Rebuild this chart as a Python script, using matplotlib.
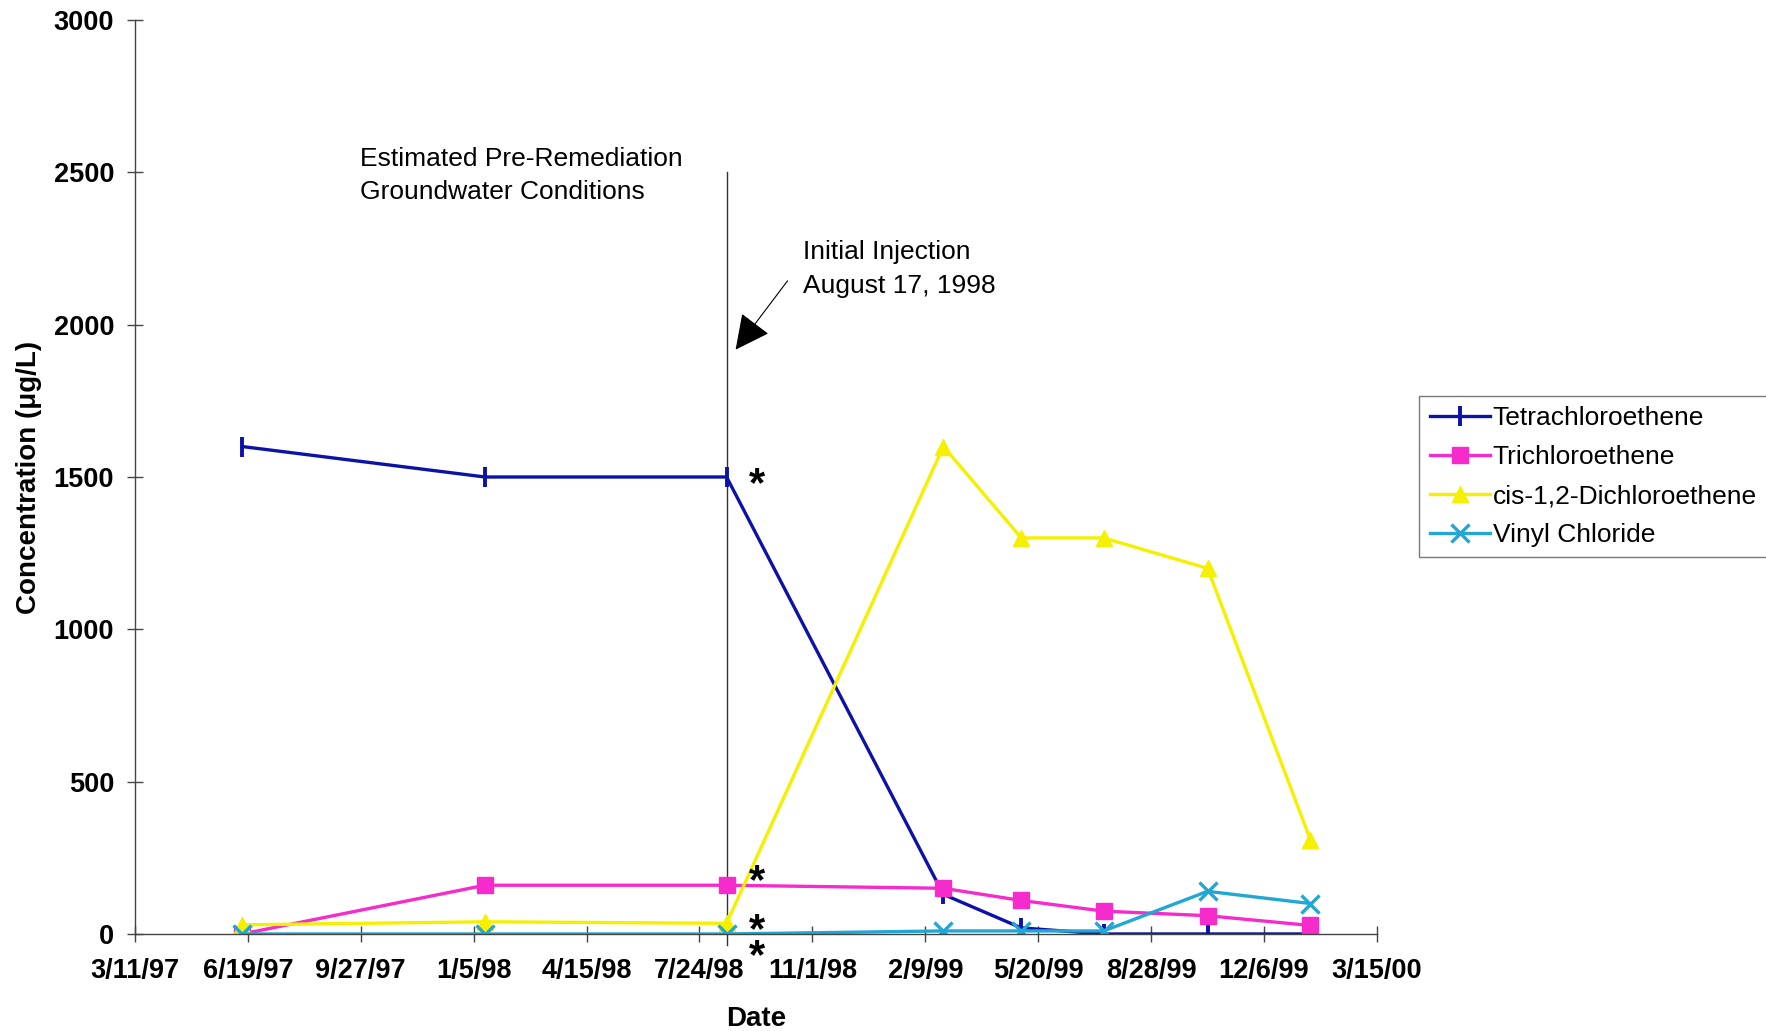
import matplotlib
matplotlib.use("Agg")
import matplotlib.pyplot as plt
from datetime import datetime


def d(s):
    return datetime.strptime(s, "%m/%d/%y")


# sampling dates and concentrations (ug/L)
sample_dates = ["6/14/97", "1/15/98", "8/17/98", "2/25/99", "5/5/99", "7/17/99", "10/17/99", "1/16/00"]
pce = [1600, 1500, 1500, 130, 20, 0, 0, 0]
tce = [0, 160, 160, 150, 110, 75, 60, 28]
dce = [30, 40, 35, 1600, 1300, 1300, 1200, 310]
vc = [0, 0, 0, 10, 10, 10, 140, 100]

series_names = ["Tetrachloroethene", "Trichloroethene", "cis-1,2-Dichloroethene", "Vinyl Chloride"]

x_tick_labels = ["3/11/97", "6/19/97", "9/27/97", "1/5/98", "4/15/98", "7/24/98",
                 "11/1/98", "2/9/99", "5/20/99", "8/28/99", "12/6/99", "3/15/00"]
y_ticks = [0, 500, 1000, 1500, 2000, 2500, 3000]

injection_date = "8/17/98"
star_date = "9/13/98"
star_levels = [1472, 172, 9, -76]

font = "Liberation Sans"

fig = plt.figure(figsize=(17.66, 10.31), dpi=100)
ax = fig.add_axes([0.0764, 0.0941, 0.7033, 0.8865])

x = [d(s) for s in sample_dates]

ax.plot(x, pce, color="#0c12a8", lw=2.4, marker="|", ms=14, mew=2.8, label=series_names[0])
ax.plot(x, tce, color="#f52ccb", lw=2.4, marker="s", ms=11, label=series_names[1])
ax.plot(x, dce, color="#f4f000", lw=2.4, marker="^", ms=12, label=series_names[2])
ax.plot(x, vc, color="#22a6d4", lw=2.4, marker="x", ms=13, mew=2.4, label=series_names[3])

ax.set_xlim(d(x_tick_labels[0]), d(x_tick_labels[-1]))
ax.set_ylim(0, 3000)
ax.set_xticks([d(s) for s in x_tick_labels])
ax.set_xticklabels(x_tick_labels, fontfamily=font, fontweight="bold", fontsize=19.5)
ax.set_yticks(y_ticks)
ax.set_yticklabels([str(v) for v in y_ticks], fontfamily=font, fontweight="bold", fontsize=19.5)

for side in ["top", "right"]:
    ax.spines[side].set_visible(False)
for side in ["left", "bottom"]:
    ax.spines[side].set_color("#444444")
    ax.spines[side].set_linewidth(1.0)
ax.tick_params(axis="both", direction="inout", length=12, width=1.0, color="#444444")
ax.tick_params(axis="y", pad=9)
ax.tick_params(axis="x", pad=11)

ax.set_xlabel("Date", fontfamily=font, fontweight="bold", fontsize=20, labelpad=16)
ax.set_ylabel("Concentration (\u03bcg/L)", fontfamily=font, fontweight="bold", fontsize=20, labelpad=8)

# injection line
inj = d(injection_date)
ax.plot([inj, inj], [-35, 2500], color="#333333", lw=1.0, clip_on=False, zorder=1)

ax.text(d("9/26/97"), 2490, "Estimated Pre-Remediation\nGroundwater Conditions",
        fontfamily=font, fontsize=19, va="center", ha="left", linespacing=1.5)
ax.text(d("10/24/98"), 2183, "Initial Injection\nAugust 17, 1998",
        fontfamily=font, fontsize=19, va="center", ha="left", linespacing=1.5)
ax.annotate("", xy=(d("8/25/98"), 1918), xytext=(d("10/10/98"), 2144),
            arrowprops=dict(arrowstyle="-|>", color="black", lw=0.8, mutation_scale=55,
                            shrinkA=0, shrinkB=0))

for lvl in star_levels:
    ax.text(d(star_date), lvl, "*", fontfamily=font, fontweight="bold", fontsize=30,
            ha="center", va="center", clip_on=False)

leg = ax.legend(loc="upper left", bbox_to_anchor=(0.8035, 0.616), bbox_transform=fig.transFigure,
                prop={"family": font, "size": 19}, frameon=True, fancybox=False,
                handlelength=2.3, handletextpad=0.1, labelspacing=0.56, borderpad=0.4,
                borderaxespad=0)
leg.get_frame().set_edgecolor("#555555")
leg.get_frame().set_linewidth(1.0)

fig.savefig("out.png", dpi=100, facecolor="white")
